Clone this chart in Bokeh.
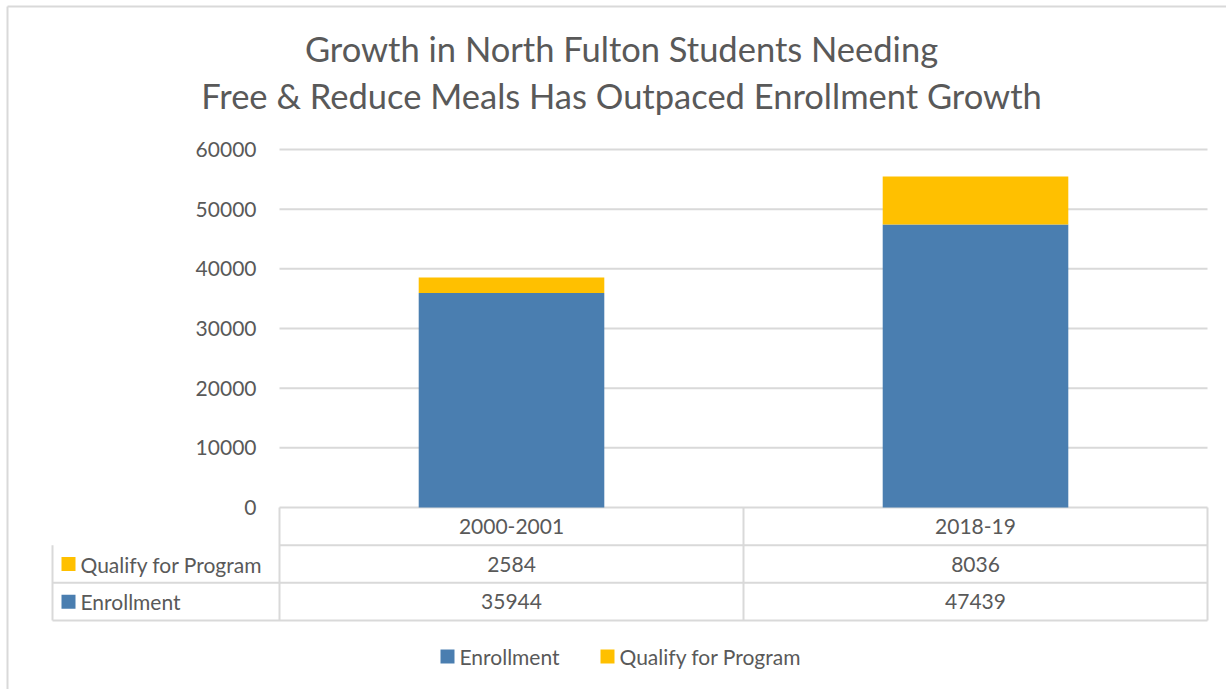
from bokeh.plotting import figure
from bokeh.models import Range1d
from bokeh.core.properties import value
from bokeh.embed import file_html
from bokeh.resources import INLINE

# ---- data ----
categories = ["2000-2001", "2018-19"]
enrollment = [35944, 47439]
qualify = [2584, 8036]
series_names = ["Enrollment", "Qualify for Program"]
y_ticks = [0, 10000, 20000, 30000, 40000, 50000, 60000]
title_lines = ["Growth in North Fulton Students Needing",
               "Free & Reduce Meals Has Outpaced Enrollment Growth"]

# ---- style / layout (pixels) ----
BLUE = "#4A7EB0"
YELLOW = "#FFC000"
TXT = "#595959"
GRID = "#d9d9d9"
FONT = "Lato"
FS = "21px"
W, H = 1226, 689
PLOT_L, PLOT_R, PLOT_T, PLOT_B = 279, 1207, 149, 507
TABLE_L, TABLE_B = 52, 620
TITLE_X, TITLE_Y = [621, 621], [48, 95]
BORDER_X, BORDER_Y = 7, 6

n = len(categories)
nrows = 1 + len(series_names)
xs = [i + 0.5 for i in range(n)]
PX = n / (PLOT_R - PLOT_L)                 # x data units per pixel
ROW_PX = (TABLE_B - PLOT_B) / nrows        # pixel height of a table row
ymax = max(y_ticks)
PPU = (PLOT_B - PLOT_T) / ymax             # pixels per value unit

label_w = (PLOT_L - TABLE_L) * PX
x_range = Range1d(-PLOT_L * PX, n + (W - PLOT_R) * PX)
y_range = Range1d(-(H - PLOT_B) / PPU, ymax + PLOT_T / PPU)

p = figure(width=W, height=H, x_range=x_range, y_range=y_range,
           output_backend="svg", toolbar_location=None,
           x_axis_location=None, y_axis_location=None,
           min_border=0, min_border_left=0, min_border_right=0,
           min_border_top=0, min_border_bottom=0,
           outline_line_color=None)
p.extra_y_ranges = {"tbl": Range1d(-(H - TABLE_B) / ROW_PX, nrows + PLOT_B / ROW_PX),
                    "px": Range1d(H, 0)}
p.extra_x_ranges = {"px": Range1d(0, W)}
p.grid.visible = False

# chart border (left and top edges)
p.segment(x0=[BORDER_X, BORDER_X], y0=[BORDER_Y, BORDER_Y], x1=[BORDER_X, W], y1=[H, BORDER_Y],
          line_color=GRID, line_width=2, x_range_name="px", y_range_name="px")

# title
p.text(x=TITLE_X, y=TITLE_Y, text=title_lines, text_align="center", text_baseline="middle",
       text_font=value(FONT), text_font_size="34.5px", text_color=TXT,
       x_range_name="px", y_range_name="px")

# value gridlines + tick labels
p.segment(x0=[0] * len(y_ticks), x1=[n] * len(y_ticks), y0=y_ticks, y1=y_ticks,
          line_color=GRID, line_width=2)
p.text(x=[0] * len(y_ticks), y=y_ticks, text=[str(t) for t in y_ticks], x_offset=-23,
       text_align="right", text_baseline="middle", text_font=value(FONT),
       text_font_size=FS, text_color=TXT)

# stacked bars
p.vbar(x=xs, bottom=[0] * n, top=enrollment, width=0.4, fill_color=BLUE, line_color=None)
p.vbar(x=xs, bottom=enrollment, top=[e + q for e, q in zip(enrollment, qualify)], width=0.4,
       fill_color=YELLOW, line_color=None)

# data table
p.segment(x0=[-label_w] * (nrows - 1) + [0], y0=list(range(nrows)) + [nrows],
          x1=[n] * nrows, y1=list(range(nrows)) + [nrows],
          line_color=GRID, line_width=2, y_range_name="tbl")
vx = [-label_w] + list(range(n + 1))
p.segment(x0=vx, y0=[0] * len(vx), x1=vx, y1=[nrows - 1] + [nrows] * (n + 1),
          line_color=GRID, line_width=2, y_range_name="tbl")

text_kw = dict(text_font=value(FONT), text_font_size=FS, text_color=TXT,
               text_baseline="middle", y_range_name="tbl")
p.text(x=xs, y=[nrows - 0.5] * n, text=categories, text_align="center", **text_kw)
row_y = {"Qualify for Program": 1.5, "Enrollment": 0.5}
values = {"Enrollment": enrollment, "Qualify for Program": qualify}
colors = {"Enrollment": BLUE, "Qualify for Program": YELLOW}
for name in series_names:
    p.text(x=xs, y=[row_y[name]] * n, text=[str(v) for v in values[name]],
           text_align="center", **text_kw)
    p.scatter(x=[-label_w + 16 * PX], y=[row_y[name]], marker="square", size=14,
              fill_color=colors[name], line_color=None, y_range_name="tbl")
    p.text(x=[-label_w], y=[row_y[name]], text=[name], x_offset=28, text_align="left", **text_kw)

# legend (below the table)
leg_y = -(656 - TABLE_B) / ROW_PX
leg_sq_px = {"Enrollment": 447, "Qualify for Program": 607}
for name in series_names:
    sx = (leg_sq_px[name] - PLOT_L) * PX
    p.scatter(x=[sx], y=[leg_y], marker="square", size=14, fill_color=colors[name],
              line_color=None, y_range_name="tbl")
    p.text(x=[sx], y=[leg_y], text=[name], x_offset=12, text_align="left", **text_kw)

open("out.html", "w").write(file_html(p, INLINE))
